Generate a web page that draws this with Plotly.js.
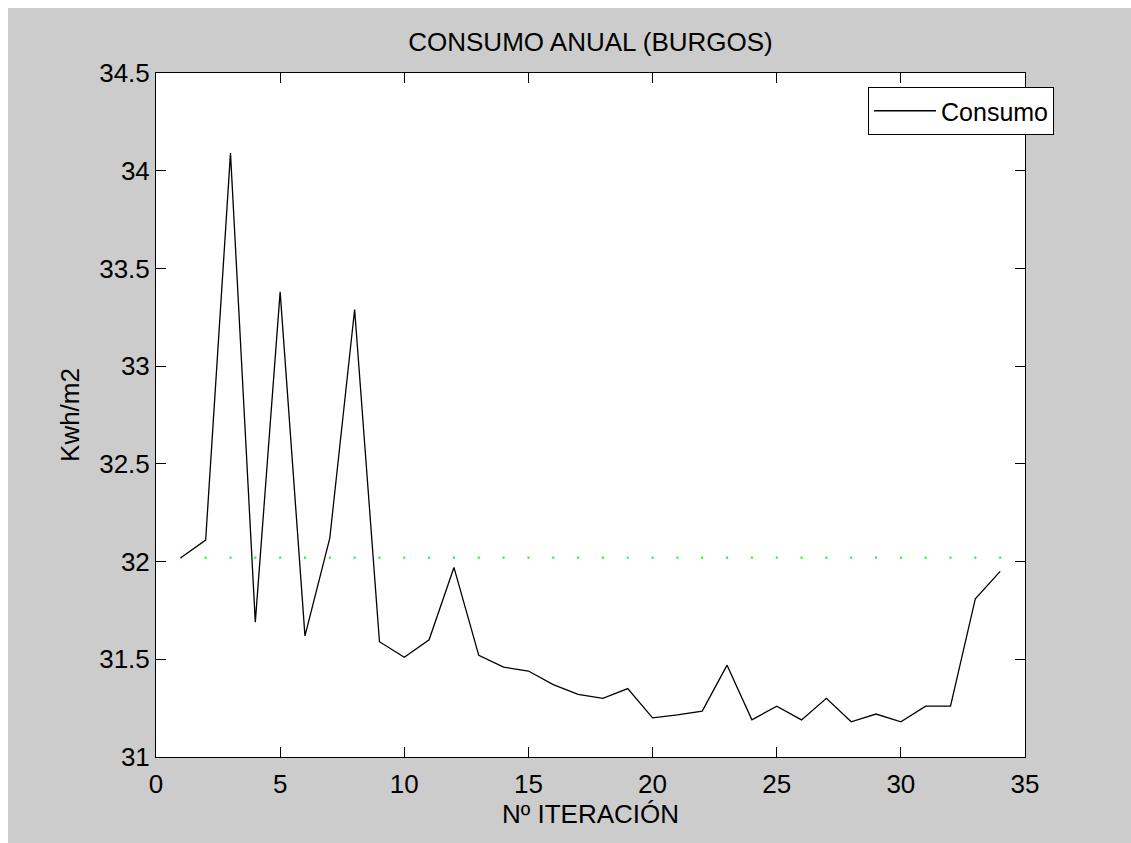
<!DOCTYPE html>
<html>
<head>
<meta charset="utf-8">
<script src="https://cdn.plot.ly/plotly-3.0.1.min.js"></script>
<style>
  html, body { margin: 0; padding: 0; background: #ffffff; }
  #chart { position: absolute; left: 8px; top: 8px; width: 1123px; height: 835px; }
</style>
</head>
<body>
<div id="chart"></div>
<script>
// Data
const iteracion = [1, 2, 3, 4, 5, 6, 7, 8, 9, 10, 11, 12, 13, 14, 15, 16, 17,
                   18, 19, 20, 21, 22, 23, 24, 25, 26, 27, 28, 29, 30, 31, 32, 33, 34];
const consumo = [32.02, 32.11, 34.09, 31.69, 33.38, 31.62, 32.12, 33.29, 31.59, 31.51,
                 31.60, 31.97, 31.52, 31.46, 31.44, 31.37, 31.32, 31.30, 31.35, 31.20,
                 31.215, 31.235, 31.47, 31.19, 31.26, 31.19, 31.30, 31.18, 31.22, 31.18,
                 31.26, 31.26, 31.81, 31.95];
const referencia = 32.02;   // initial consumption, dotted green reference
const xTicks = [0, 5, 10, 15, 20, 25, 30, 35];
const yTicks = [31, 31.5, 32, 32.5, 33, 33.5, 34, 34.5];
const yTickText = ['31', '31.5', '32', '32.5', '33', '33.5', '34', '34.5'];

const FONT = 'Arial, "Liberation Sans", sans-serif';

const traces = [
  {
    x: iteracion,
    y: iteracion.map(() => referencia),
    mode: 'markers',
    marker: { color: '#00ff00', size: 2, symbol: 'square', line: { width: 0 } },
    showlegend: false,
    hoverinfo: 'skip'
  },
  {
    x: iteracion,
    y: consumo,
    mode: 'lines',
    name: 'Consumo',
    line: { color: '#000000', width: 1.3 }
  }
];

const axisCommon = {
  showline: true,
  linecolor: '#000000',
  linewidth: 1,
  mirror: 'ticks',
  ticks: 'inside',
  ticklen: 10,
  tickwidth: 1,
  tickcolor: '#000000',
  showgrid: false,
  zeroline: false,
  tickfont: { family: FONT, size: 26, color: '#000000' }
};

const layout = {
  width: 1123,
  height: 835,
  paper_bgcolor: '#cccccc',
  plot_bgcolor: '#ffffff',
  margin: { l: 148, r: 106, t: 65, b: 86, pad: 0 },
  title: {
    text: 'CONSUMO ANUAL (BURGOS)',
    font: { family: FONT, size: 26, color: '#000000' },
    x: 0.5, xref: 'paper', xanchor: 'center',
    y: 0.959, yref: 'container', yanchor: 'middle'
  },
  xaxis: Object.assign({}, axisCommon, {
    range: [0, 35],
    tickvals: xTicks,
    ticktext: xTicks.map(String),
    ticklabelstandoff: 4,
    title: { text: 'Nº ITERACIÓN', font: { family: FONT, size: 26, color: '#000000' }, standoff: 2 }
  }),
  yaxis: Object.assign({}, axisCommon, {
    range: [31, 34.5],
    tickvals: yTicks,
    ticktext: yTickText,
    title: { text: 'Kwh/m2', font: { family: FONT, size: 26, color: '#000000' }, standoff: 12 }
  }),
  showlegend: true,
  legend: {
    x: 1.0334, xanchor: 'right', xref: 'paper',
    y: 0.9795, yanchor: 'top', yref: 'paper',
    bgcolor: '#ffffff',
    bordercolor: '#000000',
    borderwidth: 1,
    font: { family: FONT, size: 25, color: '#000000' },
    itemwidth: 62,
    tracegroupgap: 0
  }
};

Plotly.newPlot('chart', traces, layout, { displayModeBar: false, staticPlot: true });
</script>
</body>
</html>
